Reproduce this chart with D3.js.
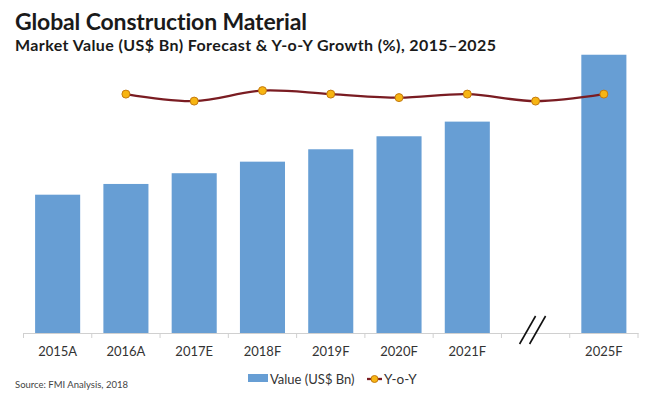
<!DOCTYPE html>
<html>
<head>
<meta charset="utf-8">
<script src="https://cdn.jsdelivr.net/npm/d3@7"></script>
<style>
  body { margin: 0; background: #fff; }
  svg { display: block; font-family: Lato, "Open Sans", sans-serif; font-variant-ligatures: none; }
</style>
</head>
<body>
<div id="chart"></div>
<script>
// categories on the x axis ("gap" = the broken slot between 2021F and 2025F)
var categories = ["2015A", "2016A", "2017E", "2018F", "2019F", "2020F", "2021F", "gap", "2025F"];
// market value, US$ Bn
var barCats   = ["2015A", "2016A", "2017E", "2018F", "2019F", "2020F", "2021F", "2025F"];
var barValues = [670, 722, 774, 830, 890, 953, 1024, 1348];
// Y-o-Y growth (%), secondary (hidden) axis
var yoyCats   = ["2016A", "2017E", "2018F", "2019F", "2020F", "2021F", "gap", "2025F"];
var yoyValues = [7.8, 7.2, 8.1, 7.8, 7.5, 7.8, 7.2, 7.8];

var width = 650, height = 397;
var margin = {left: 23.5, right: 12, top: 44, bottom: 64};

var svg = d3.select("#chart").append("svg")
    .attr("width", width)
    .attr("height", height);

// titles
svg.append("text")
    .attr("x", 15).attr("y", 30)
    .attr("font-size", 23).attr("font-weight", "bold")
    .attr("fill", "#1a1a1a")
    .attr("textLength", 292)
    .text("Global Construction Material");
svg.append("text")
    .attr("x", 15).attr("y", 51)
    .attr("font-size", 16).attr("font-weight", "bold")
    .attr("fill", "#1a1a1a")
    .attr("textLength", 481)
    .text("Market Value (US$ Bn) Forecast & Y-o-Y Growth (%), 2015\u20132025");

var x = d3.scaleBand()
    .domain(categories)
    .range([margin.left, width - margin.right])
    .paddingInner(0.34)
    .paddingOuter(0.17);

var baseY = height - margin.bottom;
var y = d3.scaleLinear()
    .domain([0, 1400])
    .range([baseY, margin.top]);

var y2 = d3.scaleLinear()
    .domain([-12.7, 12.1])
    .range([baseY, margin.top]);

// bars
svg.append("g")
  .selectAll("rect")
  .data(barCats)
  .enter().append("rect")
    .attr("x", function(d) { return x(d); })
    .attr("y", function(d, i) { return y(barValues[i]); })
    .attr("width", x.bandwidth())
    .attr("height", function(d, i) { return baseY - y(barValues[i]); })
    .attr("fill", "#679ed4");

// x axis: labels from axisBottom, tick marks at slot boundaries
var step = x.step();
var xAxis = svg.append("g")
    .attr("transform", "translate(0," + baseY + ")")
    .call(d3.axisBottom(x).tickSize(0).tickPadding(14)
      .tickFormat(function(d) { return d === "gap" ? "" : d; }));
xAxis.select(".domain").attr("stroke", "#d0d0d0").attr("stroke-width", 1);
xAxis.selectAll("text")
    .attr("font-size", 13)
    .attr("font-family", "Lato, sans-serif")
    .attr("fill", "#333");

var bounds = categories.map(function(c) { return x(c) - x.paddingInner() * step / 2; });
bounds.push(width - margin.right);
svg.append("g")
  .selectAll("line")
  .data(bounds)
  .enter().append("line")
    .attr("x1", function(d) { return d; })
    .attr("x2", function(d) { return d; })
    .attr("y1", baseY)
    .attr("y2", baseY + 5)
    .attr("stroke", "#d0d0d0");

// axis break mark
var cx = x("gap") + x.bandwidth() / 2;
svg.append("g")
  .selectAll("line")
  .data([0, 10])
  .enter().append("line")
    .attr("x1", function(d) { return cx + d; })
    .attr("y1", baseY - 17)
    .attr("x2", function(d) { return cx + d - 16; })
    .attr("y2", baseY + 11)
    .attr("stroke", "#111")
    .attr("stroke-width", 1.6);

// y-o-y line
var line = d3.line()
    .x(function(d, i) { return x(yoyCats[i]) + x.bandwidth() / 2; })
    .y(function(d) { return y2(d); })
    .curve(d3.curveCatmullRom.alpha(0.5));

svg.append("path")
    .datum(yoyValues)
    .attr("d", line)
    .attr("fill", "none")
    .attr("stroke", "#7a1c22")
    .attr("stroke-width", 2.3);

svg.append("g")
  .selectAll("circle")
  .data(yoyValues)
  .enter().append("circle")
    .attr("cx", function(d, i) { return x(yoyCats[i]) + x.bandwidth() / 2; })
    .attr("cy", function(d) { return y2(d); })
    .attr("r", 4)
    .attr("fill", "#f7b512")
    .attr("stroke", "#c47a10")
    .attr("stroke-width", 1);

// legend
var legend = svg.append("g");
legend.append("rect")
    .attr("x", 248).attr("y", 374)
    .attr("width", 20).attr("height", 8)
    .attr("fill", "#679ed4");
legend.append("text")
    .attr("x", 270).attr("y", 383.5)
    .attr("font-size", 13).attr("fill", "#333")
    .text("Value (US$ Bn)");
legend.append("line")
    .attr("x1", 367).attr("x2", 382)
    .attr("y1", 379).attr("y2", 379)
    .attr("stroke", "#7a1c22").attr("stroke-width", 2.3);
legend.append("circle")
    .attr("cx", 374.5).attr("cy", 379).attr("r", 3.5)
    .attr("fill", "#f7b512").attr("stroke", "#c47a10");
legend.append("text")
    .attr("x", 384).attr("y", 383.5)
    .attr("font-size", 13.5).attr("fill", "#333")
    .text("Y-o-Y");

// source
svg.append("text")
    .attr("x", 15).attr("y", 388)
    .attr("font-size", 9.5).attr("fill", "#444")
    .text("Source: FMI Analysis, 2018");
</script>
</body>
</html>
